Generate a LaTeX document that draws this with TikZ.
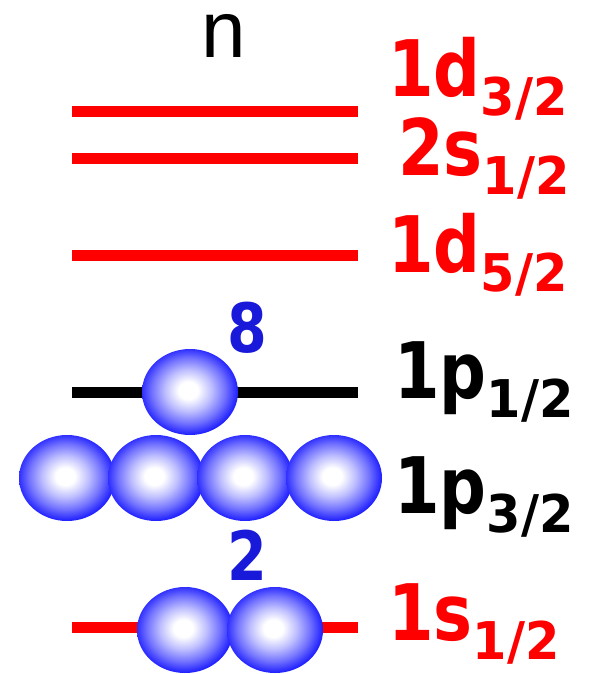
\documentclass[tikz,border=0pt]{standalone}
\usepackage{fontspec}
\setmainfont{DejaVu Sans}
\newfontfamily\shellfont[FakeStretch=0.84]{DejaVu Sans}
\newfontfamily\subfont[FakeStretch=0.95]{DejaVu Sans}
\newfontfamily\headfont{Liberation Sans}
\usetikzlibrary{shapes.geometric}
\definecolor{levelred}{rgb}{1, 0, 0}
\definecolor{nucleonblue}{rgb}{0, 0, 1}
\definecolor{magicblue}{rgb}{0.1, 0.1, 0.85}
\pgfdeclareradialshading{nucleon}{\pgfpoint{-1bp}{1bp}}{%
  color(0bp)=(white); color(5bp)=(white);
  color(12bp)=(nucleonblue!25!white);
  color(19bp)=(nucleonblue!55!white);
  color(25bp)=(nucleonblue!85!white);
  color(29bp)=(nucleonblue); color(100bp)=(nucleonblue)}
\newcommand{\orb}[2]{{\fontsize{78}{78}\selectfont\shellfont\bfseries #1}%
  \raisebox{-19pt}{\fontsize{52}{52}\selectfont\subfont\bfseries #2}}
\tikzset{
  shelline/.style={
    line width=11pt,
    levelred
  },
  nucleon/.style={
    ellipse,
    shading=nucleon,
    minimum width=96pt,
    minimum height=86pt,
    inner sep=0pt
  },
  orbit/.style={
    anchor=base west,
    inner sep=0pt,
    levelred
  },
  magic/.style={
    anchor=base,
    inner sep=0pt,
    magicblue,
    font=\fontsize{68}{68}\selectfont\shellfont\bfseries
  }
}

\begin{document}
\begin{tikzpicture}[x=1pt,y=-1pt]
\useasboundingbox (0,0) rectangle (601,674);
\node[anchor=base, inner sep=0pt, text height=46pt, font=\fontsize{80}{80}\selectfont\headfont] (n) at (224,58) {n};

\draw[shelline] (72,112) -- (358,112);
\draw[shelline] (72,158) -- (358,158);
\draw[shelline] (72,255) -- (358,255);
\draw[shelline, black] (72,392) -- (358,392);
\draw[shelline] (72,627) -- (358,627);

\node[orbit] (d32) at (388,97) {\orb{1d}{3/2}};
\node[orbit] (s12b) at (398,175) {\orb{2s}{1/2}};
\node[orbit] (d52) at (388,272) {\orb{1d}{5/2}};
\node[orbit, black] (p12) at (394,398) {\orb{1p}{1/2}};
\node[orbit, black] (p32) at (394,513) {\orb{1p}{3/2}};
\node[orbit] (s12) at (388,640) {\orb{1s}{1/2}};

\node[magic] (eight) at (247,352) {8};
\node[magic] (two) at (247,580) {2};

\node[nucleon] (p1) at (190,392) {};
\foreach \i/\x in {1/67,2/156,3/245,4/334}
  \node[nucleon] (q\i) at (\x,478) {};
\node[nucleon] (s1) at (185,630) {};
\node[nucleon] (s2) at (275,630) {};
\end{tikzpicture}
\end{document}
